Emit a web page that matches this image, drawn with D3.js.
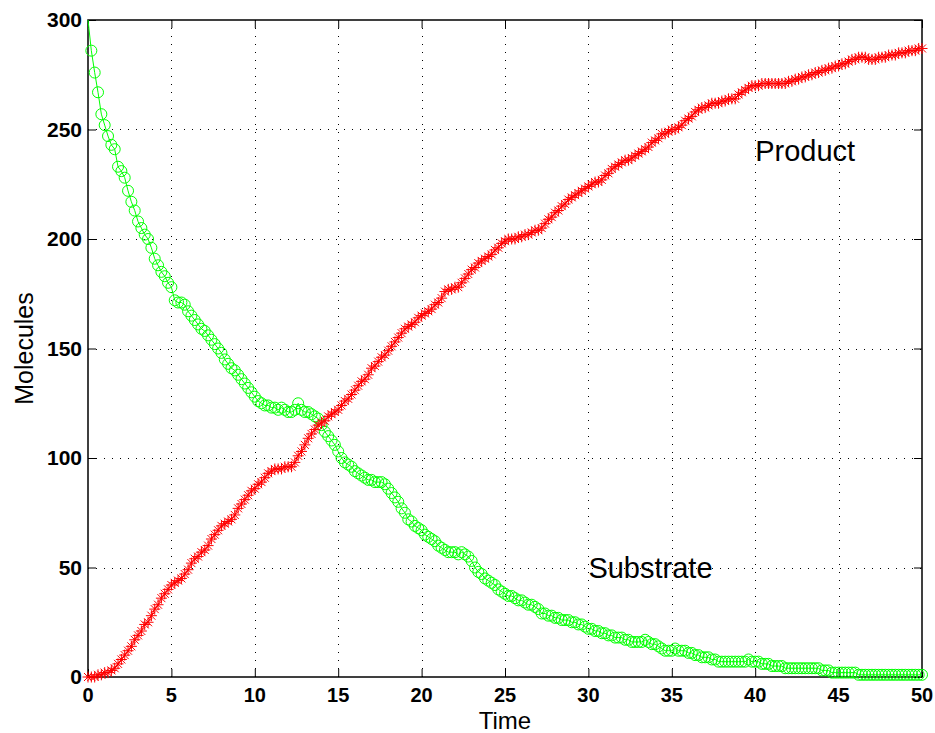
<!DOCTYPE html>
<html>
<head>
<meta charset="utf-8">
<script src="https://cdn.jsdelivr.net/npm/d3@7"></script>
<style>
  body { margin: 0; background: #fff; }
  svg { display: block; }
  text { font-family: "Liberation Sans", Arial, Helvetica, sans-serif; }
</style>
</head>
<body>
<div id="myPlot"></div>
<script>
// sample interval of the simulation output (time units)
const dt = 0.2;

// substrate molecules, one value every dt from t = 0 to t = 50
const substrate = [
  300,286,276,267,257,252,247,243,241,233,
  231,228,222,217,213,208,205,202,200,196,
  191,188,185,183,180,178,172,171,171,170,
  167,165,163,161,159,158,156,154,152,150,
  148,145,143,141,140,138,136,134,132,130,
  128,126,125,124,124,123,123,122,123,122,
  121,121,122,125,122,121,121,120,119,118,
  115,112,110,108,106,103,100,98,97,96,
  94,93,92,91,90,90,89,89,89,88,
  86,84,82,80,77,75,72,71,69,68,
  67,65,64,63,62,60,59,58,57,57,
  57,56,57,56,55,53,50,48,47,45,
  44,43,42,40,39,38,37,37,36,35,
  35,34,33,33,32,31,29,29,28,28,
  27,27,26,26,26,25,25,24,24,23,
  22,22,21,21,20,20,19,19,18,18,
  18,17,17,16,16,16,16,17,16,15,
  15,14,13,12,12,12,13,12,12,12,
  11,11,10,10,9,9,9,8,8,7,
  7,7,7,7,7,7,7,7,8,7,
  7,7,6,6,6,5,5,5,5,4,
  4,4,4,4,4,4,4,4,4,4,
  3,3,3,2,2,2,2,2,2,2,
  2,1,1,1,1,1,1,1,1,1,
  1,1,1,1,1,1,1,1,1,1,
  1
];

// product molecules, same sampling
const product = [
  0,0,0,1,1,2,2,3,4,6,
  8,10,12,14,17,19,21,24,25,28,
  31,33,36,38,40,42,43,44,45,47,
  49,52,54,55,57,58,60,63,65,67,
  69,70,71,72,74,77,79,81,83,85,
  86,88,89,91,93,94,95,95,95,96,
  96,96,98,101,103,106,109,111,113,115,
  116,117,119,120,121,122,124,126,127,129,
  131,133,135,136,138,141,142,144,146,147,
  149,151,153,155,157,159,160,161,162,164,
  165,166,167,168,170,171,173,176,177,177,
  178,178,180,182,184,186,187,189,190,191,
  192,193,195,196,198,199,200,200,200,201,
  201,202,202,203,204,204,205,207,209,210,
  212,213,215,216,218,219,220,221,222,223,
  224,225,226,226,227,229,230,232,233,234,
  235,236,236,237,238,239,240,241,242,244,
  245,246,248,248,249,250,250,251,252,254,
  255,256,258,259,260,260,261,262,262,262,
  263,263,264,264,264,266,267,268,269,270,
  270,270,271,271,271,271,271,271,271,271,
  272,272,273,273,274,274,275,275,276,276,
  277,277,278,278,279,279,280,280,281,282,
  282,283,283,283,282,282,282,283,283,283,
  284,284,284,285,285,285,286,286,286,287,
  287
];

const xTicks = [0, 5, 10, 15, 20, 25, 30, 35, 40, 45, 50];
const yTicks = [0, 50, 100, 150, 200, 250, 300];

// curve annotations [t, molecules, text]
const labels = [
  [40, 240, 'Product'],
  [30, 50, 'Substrate']
];

const W = 935, H = 733;
const margin = {top: 20, right: 13, bottom: 56, left: 88};

const svg = d3.select('#myPlot')
  .append('svg')
    .attr('width', W)
    .attr('height', H);

svg.append('rect')
  .attr('width', W)
  .attr('height', H)
  .attr('fill', '#fff');

const x = d3.scaleLinear()
  .domain([0, 50])
  .range([margin.left, W - margin.right]);
const y = d3.scaleLinear()
  .domain([0, 300])
  .range([H - margin.bottom, margin.top]);

const x0 = x.range()[0], x1 = x.range()[1];
const y0 = y.range()[0], y1 = y.range()[1];

// dotted grid
const grid = svg.append('g')
  .attr('stroke', '#000')
  .attr('stroke-width', 1)
  .attr('stroke-dasharray', '1,7');
grid.selectAll('line.vx')
  .data(xTicks.slice(1, -1))
  .enter()
  .append('line')
    .attr('x1', d => Math.round(x(d)) + 0.5)
    .attr('x2', d => Math.round(x(d)) + 0.5)
    .attr('y1', y1)
    .attr('y2', y0);
grid.selectAll('line.hy')
  .data(yTicks.slice(1, -1))
  .enter()
  .append('line')
    .attr('y1', d => Math.round(y(d)) + 0.5)
    .attr('y2', d => Math.round(y(d)) + 0.5)
    .attr('x1', x0)
    .attr('x2', x1);

// axes on all four sides, ticks pointing inward, labels only bottom / left
const tickLen = 8;
svg.append('g')
  .attr('transform', 'translate(0,' + y0 + ')')
  .call(d3.axisTop(x).tickValues(xTicks).tickSize(tickLen).tickFormat(''));
svg.append('g')
  .attr('transform', 'translate(0,' + y1 + ')')
  .call(d3.axisBottom(x).tickValues(xTicks).tickSize(tickLen).tickFormat(''));
svg.append('g')
  .attr('transform', 'translate(' + x0 + ',0)')
  .call(d3.axisRight(y).tickValues(yTicks).tickSize(tickLen).tickFormat(''));
svg.append('g')
  .attr('transform', 'translate(' + x1 + ',0)')
  .call(d3.axisLeft(y).tickValues(yTicks).tickSize(tickLen).tickFormat(''));
svg.selectAll('.domain').remove();
svg.selectAll('.tick line').attr('stroke', '#000').attr('stroke-width', 1);

svg.append('rect')
  .attr('x', x0)
  .attr('y', y1)
  .attr('width', x1 - x0)
  .attr('height', y0 - y1)
  .attr('fill', 'none')
  .attr('stroke', '#000')
  .attr('stroke-width', 1.5);

// tick labels
svg.append('g')
  .selectAll('text')
  .data(xTicks)
  .enter()
  .append('text')
    .attr('x', d => x(d))
    .attr('y', y0 + 25)
    .attr('text-anchor', 'middle')
    .style('font-size', '20px')
    .style('font-weight', 'bold')
    .text(d => d);
svg.append('g')
  .selectAll('text')
  .data(yTicks)
  .enter()
  .append('text')
    .attr('x', x0 - 6)
    .attr('y', d => y(d) + 7)
    .attr('text-anchor', 'end')
    .style('font-size', '21px')
    .style('font-weight', 'bold')
    .text(d => d);

// axis titles
svg.append('text')
  .attr('x', (x0 + x1) / 2)
  .attr('y', 729)
  .attr('text-anchor', 'middle')
  .style('font-size', '24px')
  .text('Time');
svg.append('text')
  .attr('transform', 'translate(33,' + ((y0 + y1) / 2) + ')rotate(-90)')
  .attr('text-anchor', 'middle')
  .style('font-size', '25px')
  .text('Molecules');

const line = d3.line()
  .x((d, i) => x(i * dt))
  .y(d => y(d));

// substrate: green line with open circles
svg.append('path')
  .datum(substrate)
  .attr('d', line)
  .attr('fill', 'none')
  .attr('stroke', '#00ff00')
  .attr('stroke-width', 1);
svg.append('g')
  .selectAll('circle')
  .data(substrate.slice(1))
  .enter()
  .append('circle')
    .attr('cx', (d, i) => x((i + 1) * dt))
    .attr('cy', d => y(d))
    .attr('r', 5.5)
    .attr('fill', 'none')
    .attr('stroke', '#00ff00')
    .attr('stroke-width', 1);

// product: red line with asterisks
svg.append('path')
  .datum(product)
  .attr('d', line)
  .attr('fill', 'none')
  .attr('stroke', '#ff0000')
  .attr('stroke-width', 1);
const a = 5.5, b = 4;
const star = `M${-a},0H${a}M0,${-a}V${a}M${-b},${-b}L${b},${b}M${-b},${b}L${b},${-b}`;
svg.append('g')
  .selectAll('path')
  .data(product)
  .enter()
  .append('path')
    .attr('transform', (d, i) => 'translate(' + x(i * dt) + ',' + y(d) + ')')
    .attr('d', star)
    .attr('fill', 'none')
    .attr('stroke', '#ff0000')
    .attr('stroke-width', 1);

// annotations
svg.append('g')
  .selectAll('text')
  .data(labels)
  .enter()
  .append('text')
    .attr('x', d => x(d[0]))
    .attr('y', d => y(d[1]) + 10)
    .style('font-size', '29px')
    .text(d => d[2]);
</script>
</body>
</html>
